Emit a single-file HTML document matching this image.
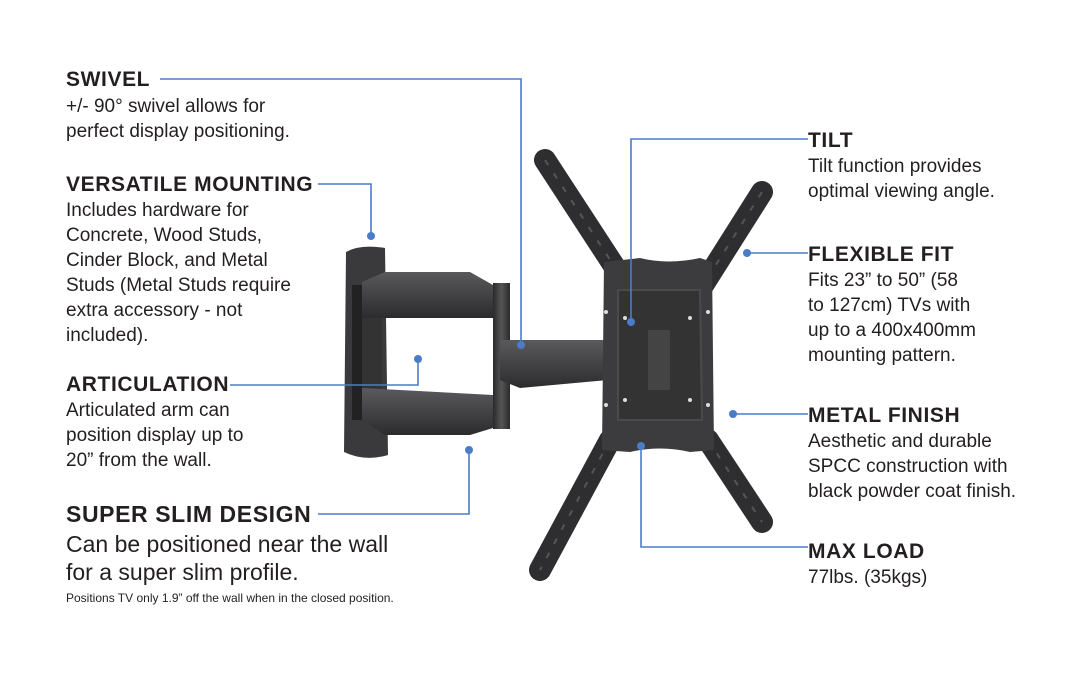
<!DOCTYPE html>
<html><head><meta charset="utf-8"><style>
html,body{margin:0;padding:0;background:#fff;}
#c{position:relative;width:1087px;height:700px;overflow:hidden;font-family:"Liberation Sans",sans-serif;color:#231f20;}
.t{position:absolute;font-weight:bold;font-size:21px;letter-spacing:0.6px;line-height:24px;white-space:nowrap;}
.b{position:absolute;font-size:19px;line-height:25px;white-space:nowrap;}
svg{position:absolute;left:0;top:0;}
</style></head><body><div id="c">
<svg width="1087" height="700" viewBox="0 0 1087 700">
<defs>
<linearGradient id="g1" x1="0" y1="0" x2="0" y2="1"><stop offset="0" stop-color="#5a5a5c"/><stop offset="1" stop-color="#2c2c2e"/></linearGradient>
<linearGradient id="g2" x1="0" y1="0" x2="1" y2="0"><stop offset="0" stop-color="#2a2a2c"/><stop offset="0.5" stop-color="#555"/><stop offset="1" stop-color="#2a2a2c"/></linearGradient>
</defs>
<path d="M346 252 Q360 244 385 248 L388 455 Q365 462 344 452 Z" fill="#3a3a3c"/>
<rect x="352" y="285" width="10" height="135" fill="#222"/>
<path d="M362 282 L385 272 L470 272 L493 285 L493 318 L362 318 Z" fill="url(#g1)"/>
<path d="M362 388 L493 395 L493 428 L470 435 L385 435 L362 420 Z" fill="url(#g1)"/>
<rect x="362" y="318" width="20" height="70" fill="#333"/>
<rect x="493" y="283" width="17" height="146" fill="url(#g2)"/>
<path d="M500 340 L608 340 L608 380 L520 388 L500 380 Z" fill="url(#g1)"/>
<g stroke="#2e2e30" stroke-width="22" stroke-linecap="round">
<line x1="545" y1="160" x2="620" y2="275"/>
<line x1="762" y1="192" x2="700" y2="290"/>
<line x1="610" y1="440" x2="540" y2="570"/>
<line x1="708" y1="440" x2="762" y2="522"/>
</g>
<g stroke="#555" stroke-width="2" fill="none">
<line x1="545" y1="160" x2="620" y2="275" stroke-dasharray="6 10"/>
<line x1="762" y1="192" x2="700" y2="290" stroke-dasharray="6 10"/>
<line x1="610" y1="440" x2="540" y2="570" stroke-dasharray="6 10"/>
<line x1="708" y1="440" x2="762" y2="522" stroke-dasharray="6 10"/>
</g>
<path d="M604 262 L640 258 Q668 265 700 258 L712 262 L714 450 L690 452 Q660 445 630 452 L602 450 Z" fill="#3c3c3e"/>
<path d="M618 290 L700 290 L702 420 L618 420 Z" fill="#333" stroke="#4a4a4c" stroke-width="2"/>
<rect x="648" y="330" width="22" height="60" fill="#444"/>
<g fill="#ddd"><circle cx="606" cy="312" r="2"/><circle cx="708" cy="312" r="2"/><circle cx="606" cy="405" r="2"/><circle cx="708" cy="405" r="2"/><circle cx="625" cy="318" r="2"/><circle cx="690" cy="318" r="2"/><circle cx="625" cy="400" r="2"/><circle cx="690" cy="400" r="2"/></g>
<g stroke="#4a7cc8" stroke-width="1.6" fill="none">
<polyline points="160,79 521,79 521,345"/>
<polyline points="318,184 371,184 371,235"/>
<polyline points="230,385 418,385 418,359"/>
<polyline points="318,514 469,514 469,450"/>
<polyline points="808,139 631,139 631,322"/>
<polyline points="808,253 747,253"/>
<polyline points="808,414 733,414"/>
<polyline points="808,547 641,547 641,446"/>
</g>
<g fill="#4a7cc8">
<circle cx="521" cy="345" r="4"/><circle cx="371" cy="236" r="4"/><circle cx="418" cy="359" r="4"/><circle cx="469" cy="450" r="4"/>
<circle cx="631" cy="322" r="4"/><circle cx="747" cy="253" r="4"/><circle cx="733" cy="414" r="4"/><circle cx="641" cy="446" r="4"/>
</g>
</svg>
<div class="t" style="left:66px;top:68px">SWIVEL</div>
<div class="b" style="left:66px;top:94px">+/- 90° swivel allows for<br>perfect display positioning.</div>
<div class="t" style="left:66px;top:173px">VERSATILE MOUNTING</div>
<div class="b" style="left:66px;top:198px">Includes hardware for<br>Concrete, Wood Studs,<br>Cinder Block, and Metal<br>Studs (Metal Studs require<br>extra accessory - not<br>included).</div>
<div class="t" style="left:66px;top:373px">ARTICULATION</div>
<div class="b" style="left:66px;top:398px">Articulated arm can<br>position display up to<br>20” from the wall.</div>
<div class="t" style="left:66px;top:502px;font-size:23px">SUPER SLIM DESIGN</div>
<div class="b" style="left:66px;top:530px;font-size:23px;line-height:28px">Can be positioned near the wall<br>for a super slim profile.</div>
<div class="b" style="left:66px;top:591px;font-size:12px;line-height:14px">Positions TV only 1.9” off the wall when in the closed position.</div>
<div class="t" style="left:808px;top:129px">TILT</div>
<div class="b" style="left:808px;top:154px">Tilt function provides<br>optimal viewing angle.</div>
<div class="t" style="left:808px;top:243px">FLEXIBLE FIT</div>
<div class="b" style="left:808px;top:268px">Fits 23” to 50” (58<br>to 127cm) TVs with<br>up to a 400x400mm<br>mounting pattern.</div>
<div class="t" style="left:808px;top:404px">METAL FINISH</div>
<div class="b" style="left:808px;top:429px">Aesthetic and durable<br>SPCC construction with<br>black powder coat finish.</div>
<div class="t" style="left:808px;top:540px">MAX LOAD</div>
<div class="b" style="left:808px;top:565px">77lbs. (35kgs)</div>
</div></body></html>
